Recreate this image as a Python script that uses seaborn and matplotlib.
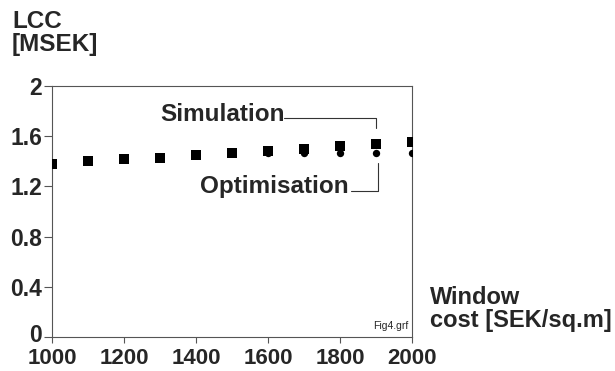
import matplotlib
matplotlib.use("Agg")
import matplotlib.pyplot as plt
import matplotlib.transforms as mtransforms
import seaborn as sns
import pandas as pd

window_cost = [1000, 1100, 1200, 1300, 1400, 1500, 1600, 1700, 1800, 1900, 2000]
simulation = [1.38, 1.40, 1.42, 1.43, 1.45, 1.465, 1.48, 1.50, 1.52, 1.54, 1.555]
optimisation = [1.38, 1.40, 1.42, 1.43, 1.45, 1.465, 1.47, 1.47, 1.465, 1.465, 1.465]
x_ticks = [1000, 1200, 1400, 1600, 1800, 2000]
y_ticks = [0, 0.4, 0.8, 1.2, 1.6, 2]
y_tick_labels = ["0", "0.4", "0.8", "1.2", "1.6", "2"]

sns.set_theme(style="white")
plt.rcParams["font.family"] = ["Liberation Sans", "DejaVu Sans"]
plt.rcParams["font.weight"] = "bold"

df = pd.DataFrame({"cost": window_cost, "Simulation": simulation, "Optimisation": optimisation})

fig = plt.figure(figsize=(6.15, 3.71), dpi=100)
ax = fig.add_axes([52 / 615, 34 / 371, 360 / 615, 251 / 371])

sns.scatterplot(data=df, x="cost", y="Optimisation", marker="o", color="black", s=28,
                edgecolor="black", linewidth=0, ax=ax, zorder=3)
sns.scatterplot(data=df, x="cost", y="Simulation", marker="s", color="black", s=45,
                edgecolor="black", linewidth=0, ax=ax, zorder=4)

ax.set_xlim(1000, 2000)
ax.set_ylim(0, 2)
ax.set_xticks(x_ticks)
ax.set_xticklabels([str(v) for v in x_ticks], fontsize=16, fontweight="bold")
ax.set_yticks(y_ticks)
ax.set_yticklabels(y_tick_labels, fontsize=16.5, fontweight="bold")
ax.tick_params(axis="x", direction="out", length=4, width=0.8, color="#555555",
               bottom=True, pad=4)
ax.tick_params(axis="y", direction="out", length=5.5, width=0.8, color="#555555",
               left=True, pad=1.5)
ax.set_xlabel("")
ax.set_ylabel("")
for s in ax.spines.values():
    s.set_visible(True)
    s.set_color("#555555")
    s.set_linewidth(0.8)

# nudge the "0" label up a little so it clears the "1000" label
zero_lbl = ax.get_yticklabels()[0]
zero_lbl.set_transform(zero_lbl.get_transform() +
                       mtransforms.ScaledTranslation(0, 3 / 72, fig.dpi_scale_trans))

# annotations
ax.text(1300, 1.77, "Simulation", fontsize=17.5, fontweight="bold", va="center", ha="left")
ax.plot([1645, window_cost[9], window_cost[9]], [1.745, 1.745, 1.665], color="#333333", lw=0.8)
ax.text(1410, 1.20, "Optimisation", fontsize=17.5, fontweight="bold", va="center", ha="left")
ax.plot([1830, window_cost[9] + 5, window_cost[9] + 5], [1.163, 1.163, 1.39], color="#333333", lw=0.8)

fig.text(12 / 615, 1 - 10 / 371, "LCC\n[MSEK]", fontsize=17.5, fontweight="bold",
         ha="left", va="top", linespacing=1.0)
fig.text(430 / 615, 1 - 286 / 371, "Window\ncost [SEK/sq.m]", fontsize=17, fontweight="bold",
         ha="left", va="top", linespacing=1.0)
ax.text(1990, 0.09, "Fig4.grf", fontsize=7.5, fontweight="normal", ha="right", va="center")

fig.savefig("out.png", dpi=100)
